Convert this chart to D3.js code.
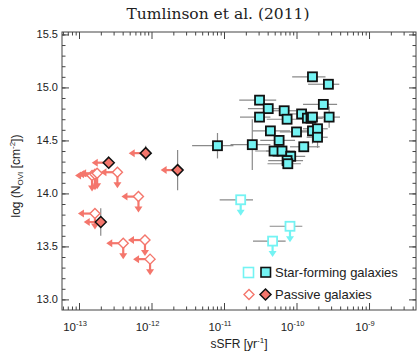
<!DOCTYPE html>
<html>
<head>
<meta charset="utf-8">
<script src="https://cdn.jsdelivr.net/npm/d3@7"></script>
<style>
  html, body { margin: 0; padding: 0; background: #fff; }
  svg { display: block; }
  text { font-family: "Liberation Sans", Arial, Helvetica, sans-serif; fill: #222; }
</style>
</head>
<body>
<svg id="chart" width="417" height="355"></svg>
<script>
// ---- Data -----------------------------------------------------------------
// Star-forming galaxies, OVI detections: log10 sSFR, log N(OVI), errors in dex
const sfLogSSFR = [-9.78, -9.56, -10.51, -10.39, -10.51, -10.17, -10.13, -9.93, -9.85, -9.80,
                   -9.78, -9.63, -9.55, -10.36, -10.00, -9.78, -9.71, -9.71, -10.24, -9.90,
                   -10.31, -10.20, -10.08, -10.13, -10.12, -11.09, -10.61];
const sfLogN    = [15.10, 15.03, 14.88, 14.80, 14.72, 14.78, 14.70, 14.75, 14.71, 14.71,
                   14.72, 14.84, 14.72, 14.59, 14.58, 14.59, 14.61, 14.53, 14.50, 14.44,
                   14.40, 14.40, 14.35, 14.31, 14.28, 14.45, 14.46];
const sfErrLo   = [0.28, 0.28, 0.28, 0.28, 0.27, 0.20, 0.28, 0.16, 0.06, 0.10,
                   0.12, 0.28, 0.10, 0.25, 0.23, 0.20, 0.20, 0.15, 0.26, 0.19,
                   0.26, 0.22, 0.25, 0.26, 0.28, 0.35, 0.30];
const sfErrHi   = [0.18, 0.15, 0.23, 0.21, 0.15, 0.17, 0.27, 0.16, 0.21, 0.16,
                   0.14, 0.19, 0.15, 0.27, 0.32, 0.15, 0.14, 0.14, 0.22, 0.22,
                   0.22, 0.18, 0.20, 0.22, 0.18, 0.22, 0.25];
const sfErrN    = [0, 0, 0, 0, 0, 0, 0, 0, 0, 0,
                   0, 0, 0.10, 0, 0, 0.12, 0, 0.10, 0, 0.05,
                   0, 0, 0, 0, 0, 0.12, 0.24];

// Star-forming galaxies, OVI upper limits
const sfLimLogSSFR = [-10.77, -10.09, -10.33];
const sfLimLogN    = [13.94, 13.69, 13.55];
const sfLimErrLo   = [0.29, 0.28, 0.27];
const sfLimErrHi   = [0.17, 0.17, 0.18];

// Passive galaxies, OVI detections (sSFR upper limits)
const psLogSSFR = [-12.08, -12.59, -11.64, -12.70];
const psLogN    = [14.38, 14.29, 14.22, 13.73];
const psErrN    = [0.07, 0, 0.19, 0.13];

// Passive galaxies, OVI upper limits (sSFR upper limits)
const psLimLogSSFR = [-12.47, -12.82, -12.78, -12.75, -12.18, -12.78, -12.39, -12.09, -12.02];
const psLimLogN    = [14.20, 14.17, 14.18, 14.19, 13.97, 13.81, 13.53, 13.56, 13.38];

// Axis ticks
const xMajorExp   = [-13, -12, -11, -10, -9];
const yMajorTicks = [13.0, 13.5, 14.0, 14.5, 15.0, 15.5];

const legendLabels = ["Star-forming galaxies", "Passive galaxies"];
const titleText = "Tumlinson et al. (2011)";

// ---- Layout & style -------------------------------------------------------
const plot = { left: 62, right: 416, top: 32, bottom: 310 };
const cyan = "#74F3F3";
const salmon = "#F4766C";
const errGrey = "#8a8a8a";
const arrowX = 17, arrowY = 16;

const svg = d3.select("#chart");

const x = d3.scaleLog()
  .domain([Math.pow(10, -13.2345), Math.pow(10, -8.352)])
  .range([plot.left, plot.right]);
const y = d3.scaleLinear()
  .domain([12.9, 15.523])
  .range([plot.bottom, plot.top]);

const X = v => x(Math.pow(10, v));

// ---- Axes -----------------------------------------------------------------
const xMinor = [];
for (let e = -14; e <= -9; e++) {
  for (let k = 2; k <= 9; k++) {
    const v = k * Math.pow(10, e);
    if (v > x.domain()[0] && v < x.domain()[1]) xMinor.push(v);
  }
}
const xMajor = xMajorExp.map(e => Math.pow(10, e));
const yMinor = d3.range(129, 156).map(i => i / 10).filter(v => v > 12.9 && v < 15.52);

function tickAxis(axisFn, scale, values, size) {
  return axisFn(scale).tickValues(values).tickSize(size).tickFormat("");
}
const axisStyle = g => {
  g.select(".domain").remove();
  g.selectAll(".tick line").attr("stroke", "#444").attr("stroke-width", 1);
};

// bottom / top
svg.append("g").attr("transform", `translate(0,${plot.bottom})`)
  .call(tickAxis(d3.axisTop, x, xMinor, 3.5)).call(axisStyle);
svg.append("g").attr("transform", `translate(0,${plot.bottom})`)
  .call(tickAxis(d3.axisTop, x, xMajor, 7)).call(axisStyle);
svg.append("g").attr("transform", `translate(0,${plot.top})`)
  .call(tickAxis(d3.axisBottom, x, xMinor, 3.5)).call(axisStyle);
svg.append("g").attr("transform", `translate(0,${plot.top})`)
  .call(tickAxis(d3.axisBottom, x, xMajor, 7)).call(axisStyle);
// left / right
svg.append("g").attr("transform", `translate(${plot.left},0)`)
  .call(tickAxis(d3.axisRight, y, yMinor, 3.5)).call(axisStyle);
svg.append("g").attr("transform", `translate(${plot.left},0)`)
  .call(tickAxis(d3.axisRight, y, yMajorTicks, 7)).call(axisStyle);
svg.append("g").attr("transform", `translate(${plot.right},0)`)
  .call(tickAxis(d3.axisLeft, y, yMinor, 3.5)).call(axisStyle);
svg.append("g").attr("transform", `translate(${plot.right},0)`)
  .call(tickAxis(d3.axisLeft, y, yMajorTicks, 7)).call(axisStyle);

// frame
svg.append("rect")
  .attr("x", plot.left).attr("y", plot.top)
  .attr("width", plot.right - plot.left).attr("height", plot.bottom - plot.top)
  .attr("fill", "none").attr("stroke", "#444").attr("stroke-width", 1);

// y tick labels
svg.append("g").selectAll("text").data(yMajorTicks).join("text")
  .attr("x", plot.left - 4).attr("y", d => y(d) + 4)
  .attr("text-anchor", "end").attr("font-size", 11)
  .text(d => d.toFixed(1));

// x tick labels: 10^n
const xl = svg.append("g").selectAll("text").data(xMajorExp).join("text")
  .attr("x", d => X(d) - 4).attr("y", plot.bottom + 21)
  .attr("text-anchor", "middle").attr("font-size", 11.5);
xl.append("tspan").text("10");
xl.append("tspan").attr("dy", -5).attr("font-size", 7.5).text(d => d);

// axis titles
const xt = svg.append("text")
  .attr("x", 239).attr("y", 348).attr("text-anchor", "middle").attr("font-size", 12);
xt.append("tspan").text("sSFR [yr");
xt.append("tspan").attr("dy", -5).attr("font-size", 8).text("-1");
xt.append("tspan").attr("dy", 5).text("]");

const yt = svg.append("text")
  .attr("transform", "translate(20,176) rotate(-90)")
  .attr("text-anchor", "middle").attr("font-size", 12);
yt.append("tspan").text("log (N");
yt.append("tspan").attr("dy", 3).attr("font-size", 8).text("OVI");
yt.append("tspan").attr("dy", -3).text(" [cm");
yt.append("tspan").attr("dy", -5).attr("font-size", 8).text("-2");
yt.append("tspan").attr("dy", 5).text("])");

svg.append("text")
  .attr("x", 218).attr("y", 19).attr("text-anchor", "middle")
  .attr("font-size", 15.5)
  .style("font-family", "'DejaVu Serif', 'Liberation Serif', serif")
  .text(titleText);

// ---- Marks ----------------------------------------------------------------
const gErr = svg.append("g").attr("stroke", errGrey).attr("stroke-width", 1.2).attr("fill", "none");
const gArr = svg.append("g");
const gPts = svg.append("g");

function hErr(lx, n, lo, hi) {
  gErr.append("line")
    .attr("x1", X(lx - lo)).attr("x2", X(lx + hi))
    .attr("y1", y(n)).attr("y2", y(n));
}
function vErr(lx, n, e) {
  if (!e) return;
  gErr.append("line")
    .attr("x1", X(lx)).attr("x2", X(lx))
    .attr("y1", y(n - e)).attr("y2", y(n + e));
}
function arrow(x0, y0, dx, dy, color) {
  const x1 = x0 + dx, y1 = y0 + dy;
  const len = Math.hypot(dx, dy), ux = dx / len, uy = dy / len;
  const hl = 6, hw = 4;
  gArr.append("line")
    .attr("x1", x0).attr("y1", y0)
    .attr("x2", x1 - ux * hl * 0.6).attr("y2", y1 - uy * hl * 0.6)
    .attr("stroke", color).attr("stroke-width", 2.2);
  const bx = x1 - ux * hl, by = y1 - uy * hl;
  gArr.append("path")
    .attr("d", `M${x1},${y1}L${bx - uy * hw},${by + ux * hw}L${bx + uy * hw},${by - ux * hw}Z`)
    .attr("fill", color);
}
const diamond = (cx, cy, r) => `M${cx},${cy - r}L${cx + r},${cy}L${cx},${cy + r}L${cx - r},${cy}Z`;

// star-forming detections
sfLogSSFR.forEach((lx, i) => {
  hErr(lx, sfLogN[i], sfErrLo[i], sfErrHi[i]);
  vErr(lx, sfLogN[i], sfErrN[i]);
});
// star-forming upper limits
sfLimLogSSFR.forEach((lx, i) => {
  hErr(lx, sfLimLogN[i], sfLimErrLo[i], sfLimErrHi[i]);
  arrow(X(lx), y(sfLimLogN[i]), 0, arrowY, cyan);
});
// passive detections
psLogSSFR.forEach((lx, i) => {
  vErr(lx, psLogN[i], psErrN[i]);
  arrow(X(lx), y(psLogN[i]), -arrowX, 0, salmon);
});
// passive upper limits
psLimLogSSFR.forEach((lx, i) => {
  arrow(X(lx), y(psLimLogN[i]), -arrowX, 0, salmon);
  arrow(X(lx), y(psLimLogN[i]), 0, arrowY, salmon);
});

// markers
gPts.selectAll(".sfl").data(sfLimLogSSFR).join("rect")
  .attr("x", (d) => X(d) - 4.5).attr("y", (d, i) => y(sfLimLogN[i]) - 4.5)
  .attr("width", 9).attr("height", 9)
  .attr("fill", "#fff").attr("stroke", cyan).attr("stroke-width", 1.8);

gPts.selectAll(".psl").data(psLimLogSSFR).join("path")
  .attr("d", (d, i) => diamond(X(d), y(psLimLogN[i]), 5))
  .attr("fill", "#fff").attr("stroke", salmon).attr("stroke-width", 1.4);

gPts.selectAll(".ps").data(psLogSSFR).join("path")
  .attr("d", (d, i) => diamond(X(d), y(psLogN[i]), 5.5))
  .attr("fill", salmon).attr("stroke", "#111").attr("stroke-width", 1.5);

gPts.selectAll(".sf").data(sfLogSSFR).join("rect")
  .attr("x", (d) => X(d) - 4.5).attr("y", (d, i) => y(sfLogN[i]) - 4.5)
  .attr("width", 9).attr("height", 9)
  .attr("fill", cyan).attr("stroke", "#111").attr("stroke-width", 1.8);

// ---- Legend ---------------------------------------------------------------
const lg = svg.append("g");
lg.append("rect").attr("x", 243.5).attr("y", 267.5).attr("width", 10).attr("height", 10)
  .attr("fill", "#fff").attr("stroke", cyan).attr("stroke-width", 1.6);
lg.append("rect").attr("x", 261).attr("y", 267.5).attr("width", 9.5).attr("height", 9.5)
  .attr("fill", cyan).attr("stroke", "#111").attr("stroke-width", 1.6);
lg.append("path").attr("d", diamond(249, 294.5, 5))
  .attr("fill", "#fff").attr("stroke", salmon).attr("stroke-width", 1.4);
lg.append("path").attr("d", diamond(265.5, 294.5, 5.5))
  .attr("fill", salmon).attr("stroke", "#111").attr("stroke-width", 1.5);
lg.selectAll("text").data(legendLabels).join("text")
  .attr("x", 275).attr("y", (d, i) => 277 + i * 22)
  .attr("font-size", 13)
  .text(d => d);
</script>
</body>
</html>
